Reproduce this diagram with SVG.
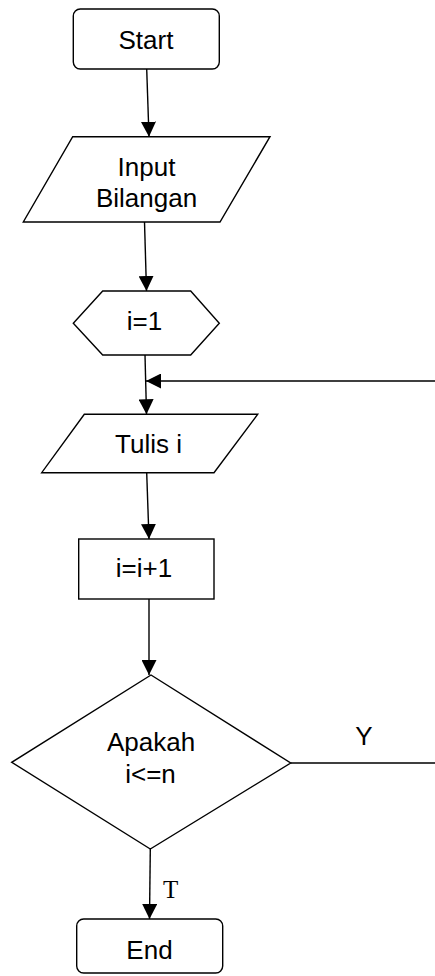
<svg xmlns="http://www.w3.org/2000/svg" width="435" height="976" viewBox="0 0 435 976">
<style>
.shape{fill:#fff;stroke:#000;stroke-width:1.4}
.lbl{font-family:"Liberation Sans",Arial,sans-serif;font-size:26px;fill:#000;text-anchor:middle}
.edge{fill:none;stroke:#000;stroke-width:1.4}
.serif{font-family:"Liberation Serif","Times New Roman",serif;font-size:25px;fill:#000}
</style>
<defs>
<marker id="arr" markerUnits="userSpaceOnUse" markerWidth="15" markerHeight="15" viewBox="0 0 15 15" refX="15" refY="7.5" orient="auto">
<path d="M0,0 L15,7.5 L0,15 z" fill="#000"/>
</marker>
</defs>
<g id="connectors">
<path class="edge" d="M146.7,69 L149,136.7" marker-end="url(#arr)"/>
<path class="edge" d="M144.5,222 L146.5,291" marker-end="url(#arr)"/>
<path class="edge" d="M145,355 L146.5,414.3" marker-end="url(#arr)"/>
<path class="edge" d="M146.7,472.7 L149,539" marker-end="url(#arr)"/>
<path class="edge" d="M149,599 L149,675" marker-end="url(#arr)"/>
<path class="edge" d="M150.3,849 L149.5,919" marker-end="url(#arr)"/>
<path class="edge" d="M290.7,763 L440,763 L440,381 L146,381" marker-end="url(#arr)"/>
<text class="lbl" x="364" y="745" font-size="25">Y</text>
<text class="serif" x="163" y="898">T</text>
</g>
<g id="start">
<rect class="shape" x="73.3" y="9" width="146" height="60" rx="7"/>
<text class="lbl" x="146" y="49">Start</text>
</g>
<g id="input">
<polygon class="shape" points="72.7,136.7 270,136.7 220,222 23.3,222"/>
<text class="lbl" x="146.5" y="176">Input</text>
<text class="lbl" x="146.5" y="207">Bilangan</text>
</g>
<g id="init">
<polygon class="shape" points="102.7,291 190.7,291 219.3,323.3 190.7,355 102.7,355 73.3,323.3"/>
<text class="lbl" x="144.5" y="329.5">i=1</text>
</g>
<g id="tulis">
<polygon class="shape" points="84.3,414.3 257.7,414.3 214,472.7 41.7,472.7"/>
<text class="lbl" x="148.5" y="452.7">Tulis i</text>
</g>
<g id="incr">
<rect class="shape" x="78.7" y="539" width="135.3" height="60"/>
<text class="lbl" x="144" y="576.7">i=i+1</text>
</g>
<g id="decision">
<polygon class="shape" points="151,675 290.7,763 150.3,849 11.7,762.3"/>
<text class="lbl" x="151" y="750.7">Apakah</text>
<text class="lbl" x="150.5" y="783.3">i&lt;=n</text>
</g>
<g id="end">
<rect class="shape" x="76.7" y="919" width="146" height="54" rx="7"/>
<text class="lbl" x="149.5" y="959.3">End</text>
</g>
</svg>
